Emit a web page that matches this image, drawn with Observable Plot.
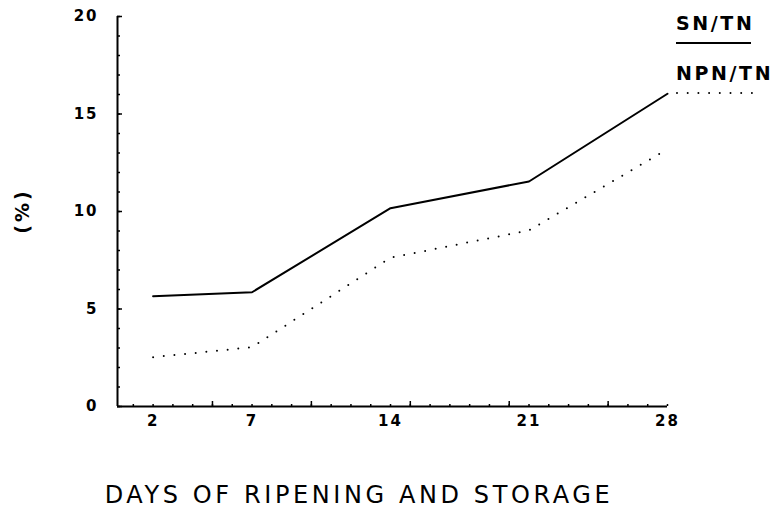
<!DOCTYPE html>
<html>
<head>
<meta charset="utf-8">
<script src="https://cdn.jsdelivr.net/npm/d3@7"></script>
<script src="https://cdn.jsdelivr.net/npm/@observablehq/plot@0.6"></script>
<style>
  html, body { margin: 0; padding: 0; background: #fff; }
  #wrap { position: relative; width: 779px; height: 518px; overflow: hidden; font-family: "DejaVu Sans", sans-serif; color: #000; }
  #chart { position: absolute; left: 0; top: 0; }
  .xtitle { position: absolute; left: 0; width: 718px; top: 481px; text-align: center; font-size: 24px; letter-spacing: 3.6px; }
  .leg { position: absolute; left: 676px; font-size: 19px; font-weight: bold; letter-spacing: 2.6px; line-height: 1; white-space: nowrap; }
  .legline { position: absolute; left: 676px; }
  .ylab { position: absolute; left: 22px; top: 211px; font-size: 19px; font-weight: bold; letter-spacing: 3px; white-space: nowrap; transform: translate(-50%, -50%) rotate(-90deg); line-height: 1; }
</style>
</head>
<body>
<div id="wrap">
  <div id="chart"></div>
  <div class="ylab">(%)</div>
  <div class="xtitle">DAYS OF RIPENING AND STORAGE</div>
  <div class="leg" style="top:14px">SN/TN</div>
  <svg class="legline" style="top:38px" width="80" height="10"><line x1="0" x2="75" y1="5" y2="5" stroke="#000" stroke-width="2"/></svg>
  <div class="leg" style="top:64px">NPN/TN</div>
  <svg class="legline" style="top:88px" width="90" height="10"><line x1="1" x2="80" y1="5" y2="5" stroke="#000" stroke-width="2" stroke-linecap="round" stroke-dasharray="0 10.7"/></svg>
</div>
<script>
const days = [2, 7, 14, 21, 28];
const snTn = [5.66, 5.86, 10.17, 11.54, 16.04];
const npnTn = [2.53, 3.04, 7.63, 9.03, 13.2];
const xTickLabels = [2, 7, 14, 21, 28];
const xMajorTicks = [5, 10, 15, 20, 25];
const xMinorTicks = d3.range(1, 29);
const yTickLabels = [0, 5, 10, 15, 20];
const yMinorTicks = d3.range(0, 21);

const sn = days.map((d, i) => ({day: d, value: snTn[i]}));
const npn = days.map((d, i) => ({day: d, value: npnTn[i]}));

const plot = Plot.plot({
  width: 779,
  height: 518,
  marginLeft: 117,
  marginRight: 112,
  marginTop: 16,
  marginBottom: 112,
  x: {domain: [0.2, 28]},
  y: {domain: [0, 20]},
  style: {fontFamily: "DejaVu Sans", background: "#fff", color: "#000", letterSpacing: "2px"},
  marks: [
    Plot.ruleX([0.2], {strokeWidth: 2}),
    Plot.ruleY([0], {strokeWidth: 2}),
    Plot.axisY(yMinorTicks, {tickSize: -3, tickFormat: () => "", label: null, strokeWidth: 1.5}),
    Plot.axisY(yTickLabels, {tickSize: -5, tickFormat: () => "", label: null, strokeWidth: 1.5}),
    Plot.axisY(yTickLabels, {tickSize: 0, tickPadding: 19, label: null, fontSize: 15, fontWeight: "bold"}),
    Plot.axisX(xMinorTicks, {tickSize: -2, tickFormat: () => "", label: null, strokeWidth: 1.5}),
    Plot.axisX(xMajorTicks, {tickSize: -5, tickFormat: () => "", label: null, strokeWidth: 1.5}),
    Plot.axisX(xTickLabels, {tickSize: 0, tickPadding: 9, label: null, fontSize: 15, fontWeight: "bold"}),
    Plot.line(sn, {x: "day", y: "value", stroke: "#000", strokeWidth: 2}),
    Plot.line(npn, {x: "day", y: "value", stroke: "#000", strokeWidth: 2, strokeLinecap: "round", strokeDasharray: "0 10.7"})
  ]
});
document.getElementById("chart").appendChild(plot);
</script>
</body>
</html>
